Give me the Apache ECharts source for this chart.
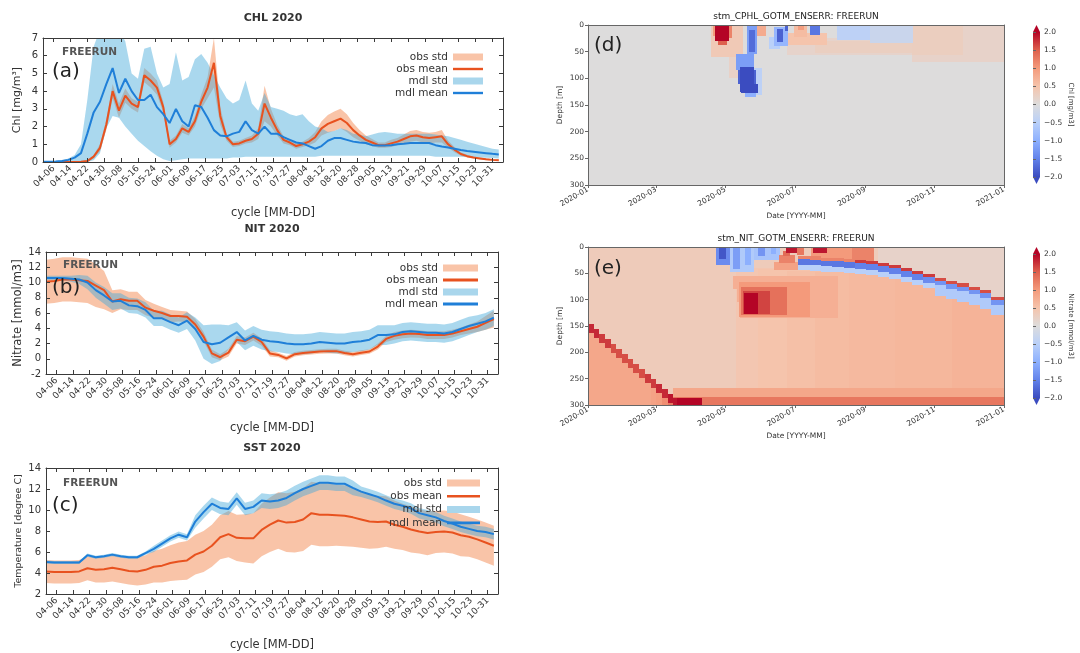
<!DOCTYPE html>
<html>
<head>
<meta charset="utf-8">
<script src="https://cdn.jsdelivr.net/npm/echarts@6/dist/echarts.min.js"></script>
<style>
  html, body { margin: 0; padding: 0; background: #ffffff; }
  #main { width: 1080px; height: 653px; }
</style>
</head>
<body>
<div id="main"></div>
<script>
// ---------------------------------------------------------------------------
// Tick labels
// ---------------------------------------------------------------------------
const cycleTicks = ['04-06','04-14','04-22','04-30','05-08','05-16','05-24','06-01','06-09',
  '06-17','06-25','07-03','07-11','07-19','07-27','08-04','08-12','08-20','08-28','09-05',
  '09-13','09-21','09-29','10-07','10-15','10-23','10-31'];
const monthTicks = ['2020-01','2020-03','2020-05','2020-07','2020-09','2020-11','2021-01'];

// ---------------------------------------------------------------------------
// Surface chlorophyll (days counted from 04-01)
// ---------------------------------------------------------------------------
const chlDays = [0,3,6,9,12,15,18,21,24,27,30,33,36,39,42,45,48,51,54,57,60,63,66,69,72,75,78,
  81,84,87,90,93,96,99,102,105,108,111,114,117,120,123,126,129,132,135,138,141,144,147,150,153,
  156,159,162,165,168,171,174,177,180,183,186,189,192,195,198,201,204,207,210,213,216];
const chlObsMean = [0,0,0,0,0,0,0.02,0.05,0.3,0.8, 2.1,4.0,2.9,3.75,3.3,3.1,4.9,4.6,4.2,3.1,
  1.0,1.3,1.9,1.7,2.3,3.4,4.2,5.6,2.6,1.4, 1.0,1.05,1.2,1.3,1.6,3.3,2.5,1.8,1.25,1.1,
  0.9,1.0,1.15,1.4,1.9,2.15,2.3,2.45,2.2,1.8, 1.5,1.25,1.1,0.95,0.95,1.05,1.15,1.3,1.45,1.5,
  1.4,1.35,1.4,1.45,1.0,0.7,0.45,0.33,0.25,0.2, 0.15,0.12,0.1];
const chlObsStd = [0,0,0,0,0,0,0.02,0.05,0.1,0.2, 0.3,0.4,0.4,0.4,0.3,0.3,0.4,0.4,0.4,0.3,
  0.2,0.2,0.25,0.2,0.3,0.4,0.6,1.4,0.5,0.2, 0.15,0.15,0.15,0.2,0.3,1.0,0.5,0.3,0.2,0.15,
  0.15,0.15,0.2,0.3,0.4,0.5,0.55,0.55,0.5,0.4, 0.3,0.25,0.2,0.15,0.15,0.2,0.2,0.25,0.3,0.3,
  0.3,0.3,0.3,0.35,0.2,0.15,0.1,0.08,0.05,0.05, 0.05,0.05,0.05];
const chlMdlMean = [0.02,0.02,0.03,0.06,0.12,0.25,0.5,1.6,2.8,3.4, 4.4,5.3,3.9,4.7,4.0,3.5,3.5,3.8,3.1,2.7,
  2.2,3.0,2.3,2.0,3.2,3.1,2.5,1.8,1.5,1.45, 1.6,1.7,2.3,1.8,1.6,2.0,1.6,1.6,1.4,1.25,
  1.1,1.05,0.9,0.75,0.9,1.2,1.35,1.35,1.25,1.15, 1.1,1.07,0.95,0.93,0.93,0.95,1.0,1.03,1.07,1.07,
  1.07,1.07,0.95,0.88,0.82,0.75,0.68,0.62,0.58,0.54, 0.5,0.46,0.43];
const chlMdlLo = [0,0,0,0,0,0,0,0,0.1,0.5, 1.9,2.6,2.5,2.0,1.6,1.2,0.9,0.6,0.35,0.15,
  0.05,0.1,0.15,0.2,0.2,0.2,0.2,0.2,0.2,0.2, 0.25,0.25,0.3,0.3,0.3,0.3,0.3,0.3,0.3,0.3,
  0.3,0.3,0.3,0.3,0.35,0.35,0.35,0.35,0.35,0.35, 0.35,0.35,0.35,0.35,0.35,0.35,0.35,0.35,0.35,0.35,
  0.35,0.35,0.3,0.3,0.3,0.3,0.3,0.28,0.26,0.25, 0.24,0.22,0.2];
const chlMdlHi = [0.02,0.03,0.05,0.1,0.2,0.4,1.0,3.5,6.5,7.5, 7.5,7.5,7.5,6.8,5.0,4.7,6.4,6.5,5.0,4.2,
  4.4,6.2,4.6,4.8,5.8,6.1,5.6,4.9,4.2,3.6, 3.3,3.5,4.6,3.3,2.9,3.9,3.1,3.0,2.9,2.7,
  2.6,2.7,2.3,2.0,1.9,1.7,1.75,1.9,1.8,1.6, 1.55,1.45,1.55,1.65,1.7,1.65,1.6,1.6,1.6,1.6,
  1.6,1.6,1.55,1.5,1.45,1.35,1.25,1.15,1.05,0.95, 0.85,0.75,0.7];

// ---------------------------------------------------------------------------
// Surface nitrate and temperature (days counted from 04-01)
// ---------------------------------------------------------------------------
const fourDayDays = [0,4,8,12,16,20,24,28,32,36,40,44,48,52,56,60,64,68,72,76,80,84,88,92,96,100,
  104,108,112,116,120,124,128,132,136,140,144,148,152,156,160,164,168,172,176,180,184,188,192,196,
  200,204,208,212,216];
const nitObsMean = [10.1,10.2,10.4,10.4,10.3,10.2,9.6,9.0,7.5,7.8, 7.6,7.6,6.7,6.3,6.0,5.6,5.6,5.5,4.5,2.9,
  0.7,0.2,0.8,2.5,2.3,2.9,2.2,0.7,0.5,0.05, 0.6,0.75,0.85,0.95,1.0,1.0,0.75,0.6,0.8,0.95,
  1.6,2.6,3.0,3.2,3.3,3.25,3.1,3.1,3.1,3.3, 3.6,3.9,4.2,4.7,5.2];
const nitObsStd = [2.9,2.9,2.9,2.9,2.9,2.9,2.8,2.5,1.5,1.3, 1.2,1.2,1.0,0.9,0.8,0.8,0.7,0.7,0.7,0.6,
  0.5,0.4,0.5,0.5,0.5,0.5,0.5,0.4,0.3,0.3, 0.3,0.3,0.3,0.3,0.3,0.3,0.3,0.3,0.3,0.3,
  0.4,0.4,0.5,0.5,0.5,0.5,0.5,0.5,0.5,0.5, 0.5,0.6,0.7,0.9,1.1];
const nitMdlMean = [10.6,10.6,10.6,10.5,10.4,10.0,9.0,8.3,7.5,7.6, 7.0,6.9,6.4,5.3,5.3,4.8,4.4,5.0,3.9,2.2,
  1.9,2.1,2.8,3.5,2.4,3.0,2.5,2.3,2.2,2.0, 1.9,1.9,2.0,2.2,2.1,2.0,2.0,2.2,2.3,2.5,
  3.1,3.1,3.2,3.5,3.6,3.5,3.4,3.4,3.3,3.5, 3.9,4.3,4.6,4.9,5.4];
const nitMdlStd = [0.3,0.3,0.3,0.4,0.6,0.9,1.0,1.1,1.1,1.0, 1.0,1.0,1.0,1.0,1.0,1.0,1.0,1.1,1.5,2.2,
  2.6,2.4,1.6,1.3,1.3,1.3,1.3,1.3,1.3,1.3, 1.3,1.3,1.3,1.3,1.3,1.3,1.3,1.3,1.3,1.3,
  1.3,1.3,1.2,1.2,1.2,1.2,1.2,1.2,1.2,1.2, 1.2,1.2,1.1,1.1,1.1];

const sstObsMean = [4.15,4.1,4.1,4.1,4.15,4.45,4.3,4.35,4.5,4.35, 4.2,4.15,4.3,4.6,4.7,4.95,5.1,5.2,5.75,6.05,
  6.6,7.4,7.7,7.35,7.3,7.3,8.1,8.6,9.0,8.8, 8.85,9.1,9.7,9.55,9.55,9.5,9.45,9.3,9.1,8.9,
  8.85,8.9,8.6,8.4,8.15,7.95,7.8,7.9,7.95,7.85, 7.6,7.45,7.2,6.9,6.6];
const sstObsStd = [1.1,1.1,1.1,1.1,1.1,1.15,1.2,1.25,1.3,1.3, 1.3,1.35,1.4,1.5,1.6,1.7,1.8,1.85,1.9,1.95,
  2.0,2.1,2.2,2.2,2.3,2.4,2.5,2.6,2.7,2.8, 2.9,3.0,3.0,3.0,3.0,2.9,2.9,2.8,2.7,2.6,
  2.5,2.4,2.3,2.2,2.2,2.1,2.1,2.0,2.0,2.0, 2.0,1.9,1.9,1.9,1.9];
const sstMdlMean = [5.05,5.0,5.0,5.0,5.0,5.7,5.5,5.6,5.75,5.6, 5.5,5.5,5.9,6.3,6.8,7.3,7.65,7.4,8.9,9.8,
  10.6,10.2,10.1,11.1,10.1,10.3,10.9,10.8,10.9,11.15, 11.6,12.0,12.3,12.6,12.6,12.5,12.5,12.1,11.75,11.5,
  11.25,10.9,10.6,10.4,10.15,9.7,9.5,9.3,8.95,8.7, 8.4,8.2,8.0,7.9,7.7];
const sstMdlStd = [0.15,0.15,0.15,0.15,0.15,0.15,0.15,0.15,0.15,0.15, 0.15,0.15,0.15,0.3,0.3,0.3,0.3,0.3,0.6,0.6,
  0.6,0.6,0.6,0.6,0.6,0.6,0.7,0.7,0.7,0.7, 0.7,0.7,0.7,0.7,0.7,0.7,0.7,0.7,0.5,0.5,
  0.5,0.5,0.5,0.5,0.5,0.5,0.5,0.5,0.5,0.5, 0.5,0.5,0.5,0.5,0.5];

// ---------------------------------------------------------------------------
// Ensemble error sections: [dayStart, dayEnd, depthTop, depthBottom, value]
// days counted from 2020-01-01; later patches are painted over earlier ones
// ---------------------------------------------------------------------------
const chlErrCells = [
  [0,366,0,300,0],
  [175,300,25,56,0.18], [200,300,30,52,0.28],
  [285,366,0,70,0.2], [285,330,0,56,0.3],
  [219,248,0,28,-0.45], [248,286,0,34,-0.28],
  [108,136,0,60,0.4], [124,134,60,100,0.22],
  [110,112,0,20,1.0], [112,124,0,30,2.0], [114,122,30,38,1.5], [124,127,0,25,1.2],
  [146,153,80,132,-0.45],
  [140,149,0,55,-1.2], [142,147,10,50,-1.7],
  [130,146,55,85,-1.2], [132,148,85,110,-1.8], [134,146,78,125,-2.0],
  [135,150,110,128,-2.0], [138,148,128,135,-1.0],
  [149,157,0,20,0.8],
  [175,210,15,38,0.5],
  [159,169,22,45,-0.5], [164,176,4,40,-0.9], [166,172,8,32,-1.8], [173,176,0,12,-1.8],
  [181,193,0,22,0.6], [185,190,0,10,0.95],
  [195,204,0,18,-1.6]
];

const nitErrCells = [
  [0,366,0,300,0.35],
  [130,366,40,268,0.45], [150,366,42,268,0.5], [175,366,45,268,0.55], [200,366,48,268,0.6],
  [230,366,50,268,0.63], [270,366,55,268,0.66], [320,366,60,268,0.7],
  [75,366,268,284,0.85], [75,366,284,300,1.3], [78,100,286,300,2.0],
  // deep staircase
  [0,5,146,164,1.8],[0,5,164,300,0.85],
  [5,10,155,173,1.8],[5,10,173,300,0.85],
  [10,15,165,183,1.7],[10,15,183,300,0.85],
  [15,20,174,192,1.7],[15,20,192,300,0.85],
  [20,25,184,202,1.6],[20,25,202,300,0.85],
  [25,30,193,211,1.6],[25,30,211,300,0.85],
  [30,35,203,221,1.6],[30,35,221,300,0.85],
  [35,40,212,230,1.6],[35,40,230,300,0.85],
  [40,45,222,240,1.6],[40,45,240,300,0.85],
  [45,50,231,249,1.6],[45,50,249,300,0.85],
  [50,55,241,259,1.7],[50,55,259,300,0.85],
  [55,60,250,268,1.7],[55,60,268,300,0.9],
  [60,65,260,278,1.8],[60,65,278,300,0.95],
  [65,70,269,287,1.8],[65,70,287,300,1.1],
  [70,75,279,297,1.9],[70,75,297,300,1.3],
  [75,78,287,300,1.9],
  // subsurface maximum
  [128,220,56,80,0.75], [131,220,80,105,0.75], [134,220,105,135,0.75],
  [133,195,66,132,1.0], [135,175,76,130,1.35], [136,160,84,128,1.65], [137,150,88,127,2.0],
  // spring surface layer
  [113,125,0,34,-1.4], [115,121,0,22,-1.9], [125,146,0,48,-0.6], [128,134,0,42,-1.2],
  [138,143,0,35,-1.0], [146,169,0,25,-0.7], [150,156,0,18,-1.3], [161,165,0,14,-1.0],
  [164,186,28,44,0.9], [168,182,16,30,1.2], [172,178,8,18,1.4],
  [174,184,0,12,1.9], [184,190,0,16,1.3],
  [196,252,0,22,1.0], [232,252,0,27,1.2], [198,210,0,12,1.9],
  // summer-autumn nitracline
  [185,195,17,23,1.2],[185,195,23,34,-1.6],[185,195,34,44,-0.5],
  [195,205,18,24,1.2],[195,205,24,35,-1.6],[195,205,35,45,-0.5],
  [205,215,20,26,1.2],[205,215,26,37,-1.6],[205,215,37,47,-0.5],
  [215,225,21,27,1.2],[215,225,27,38,-1.6],[215,225,38,48,-0.5],
  [225,235,23,29,1.2],[225,235,29,40,-1.6],[225,235,40,50,-0.5],
  [235,245,25,31,1.7],[235,245,31,42,-1.5],[235,245,42,52,-0.5],
  [245,255,27,33,1.7],[245,255,33,44,-1.5],[245,255,44,54,-0.5],
  [255,265,0,30,0.2],[255,265,30,36,1.7],[255,265,36,47,-1.5],[255,265,47,57,-0.5],
  [265,275,0,34,0.2],[265,275,34,40,1.7],[265,275,40,51,-1.5],[265,275,51,61,-0.5],
  [275,285,0,40,0.2],[275,285,40,46,1.7],[275,285,46,57,-1.5],[275,285,57,67,-0.5],
  [285,295,0,45,0.2],[285,295,45,51,1.7],[285,295,51,62,-1.5],[285,295,62,72,-0.5],
  [295,305,0,51,0.2],[295,305,51,57,1.7],[295,305,57,68,-1.4],[295,305,68,78,-0.5],
  [305,315,0,58,0.2],[305,315,58,64,1.6],[305,315,64,73,-1.3],[305,315,73,93,-0.6],
  [315,325,0,64,0.2],[315,325,64,70,1.6],[315,325,70,79,-1.3],[315,325,79,99,-0.6],
  [325,335,0,69,0.2],[325,335,69,75,1.6],[325,335,75,84,-1.3],[325,335,84,104,-0.6],
  [335,345,0,75,0.2],[335,345,75,81,1.6],[335,345,81,90,-1.3],[335,345,90,110,-0.6],
  [345,355,0,82,0.2],[345,355,82,88,1.6],[345,355,88,97,-1.3],[345,355,97,117,-0.6],
  [355,366,0,95,0.2],[355,366,95,101,1.6],[355,366,101,110,-1.3],[355,366,110,130,-0.6]
];

// ---------------------------------------------------------------------------
// Styling
// ---------------------------------------------------------------------------
const FONT = 'DejaVu Sans';
const OBS_LINE = '#e8521f';
const MDL_LINE = '#1f7fd8';
const OBS_BAND = 'rgba(243,137,81,0.5)';
const MDL_BAND = 'rgba(67,169,218,0.45)';
const COOLWARM = ['#3b4cc0','#6282ea','#8db0fe','#b9d0f9','#dddcdc','#f5c4ac','#f49a7b','#de604d','#b40426'];
const LINE_ICON = 'path://M0,0 L30,0 L30,2.4 L0,2.4 Z';

function seasonDay(mmdd) {
  const [m, d] = mmdd.split('-').map(Number);
  return Math.round((Date.UTC(2020, m - 1, d) - Date.UTC(2020, 3, 1)) / 864e5);
}
function yearDay(ym) {
  const [y, m] = ym.split('-').map(Number);
  return Math.round((Date.UTC(y, m - 1, 1) - Date.UTC(2020, 0, 1)) / 864e5);
}
const cycleTickDays = cycleTicks.map(seasonDay);
const cycleLabel = {};
cycleTicks.forEach((t, i) => { cycleLabel[cycleTickDays[i]] = t; });
const monthTickDays = monthTicks.map(yearDay);
const monthLabel = {};
monthTicks.forEach((t, i) => { monthLabel[monthTickDays[i]] = t; });

const SEASON_END = seasonDay('11-05');
const YEAR_END = yearDay('2021-01');

// ---------------------------------------------------------------------------
// Time-series panels
// ---------------------------------------------------------------------------
const panels = [
  { grid: { left: 43, top: 38, width: 460, height: 124 },
    y: [0, 7, 1], yName: 'Chl [mg/m³]', yNameSize: 11, yNameGap: 20, xNameGap: 45,
    days: chlDays, obsMean: chlObsMean,
    obsLo: chlObsMean.map((m, i) => m - chlObsStd[i]),
    obsHi: chlObsMean.map((m, i) => m + chlObsStd[i]),
    mdlMean: chlMdlMean, mdlLo: chlMdlLo, mdlHi: chlMdlHi,
    legend: { right: 592, top: 46, gap: 0, w: 30 } },
  { grid: { left: 46, top: 252, width: 452, height: 122 },
    y: [-2, 14, 2], yName: 'Nitrate [mmol/m3]', yNameSize: 11.5, yNameGap: 21, xNameGap: 48,
    days: fourDayDays, obsMean: nitObsMean,
    obsLo: nitObsMean.map((m, i) => m - nitObsStd[i]),
    obsHi: nitObsMean.map((m, i) => m + nitObsStd[i]),
    mdlMean: nitMdlMean,
    mdlLo: nitMdlMean.map((m, i) => m - nitMdlStd[i]),
    mdlHi: nitMdlMean.map((m, i) => m + nitMdlStd[i]),
    legend: { right: 597, top: 257, gap: 0, w: 35 } },
  { grid: { left: 46, top: 468, width: 452, height: 126 },
    y: [2, 14, 2], yName: 'Temperature [degree C]', yNameSize: 9.5, yNameGap: 22, xNameGap: 45,
    days: fourDayDays, obsMean: sstObsMean,
    obsLo: sstObsMean.map((m, i) => m - sstObsStd[i]),
    obsHi: sstObsMean.map((m, i) => m + sstObsStd[i]),
    mdlMean: sstMdlMean,
    mdlLo: sstMdlMean.map((m, i) => m - sstMdlStd[i]),
    mdlHi: sstMdlMean.map((m, i) => m + sstMdlStd[i]),
    legend: { right: 595, top: 472, gap: 1.3, w: 33 } }
];

// A shaded band between a lower and an upper curve, drawn once as a single polygon
function renderBand(params, api) {
  if (params.dataIndexInside !== 0) return null;
  const n = params.dataInsideLength;
  const pts = [];
  for (let i = 0; i < n; i++) pts.push(api.coord([api.value(0, i), api.value(2, i)]));
  for (let i = n - 1; i >= 0; i--) pts.push(api.coord([api.value(0, i), api.value(1, i)]));
  return { type: 'polygon', shape: { points: pts }, style: { fill: api.visual('color') } };
}

const AX_COLOR = '#3a3a3a';
const grids = [];
const xAxes = [];
const yAxes = [];
const series = [];
const legends = [];

panels.forEach((p, gi) => {
  grids.push(Object.assign({ containLabel: false }, p.grid));
  const line = { show: true, onZero: false, lineStyle: { color: AX_COLOR, width: 1 } };
  const tick = { show: true, inside: true, length: 4, lineStyle: { color: AX_COLOR } };
  xAxes.push({
    type: 'value', gridIndex: gi, min: 0, max: SEASON_END, position: 'bottom', z: 10,
    name: 'cycle [MM-DD]', nameLocation: 'middle', nameGap: p.xNameGap,
    nameTextStyle: { fontFamily: FONT, fontSize: 11.5, color: '#333' },
    axisLine: line, axisTick: Object.assign({ customValues: cycleTickDays }, tick),
    axisLabel: { show: true, rotate: 45, margin: 5, fontFamily: FONT, fontSize: 9, color: '#333',
      customValues: cycleTickDays, formatter: v => cycleLabel[v] || '' },
    splitLine: { show: false }
  });
  xAxes.push({
    type: 'value', gridIndex: gi, min: 0, max: SEASON_END, position: 'top', z: 10,
    axisLine: line, axisTick: Object.assign({ customValues: cycleTickDays }, tick),
    axisLabel: { show: false }, splitLine: { show: false }
  });
  yAxes.push({
    type: 'value', gridIndex: gi, min: p.y[0], max: p.y[1], interval: p.y[2], position: 'left', z: 10,
    name: p.yName, nameLocation: 'middle', nameGap: p.yNameGap,
    nameTextStyle: { fontFamily: FONT, fontSize: p.yNameSize, color: '#333' },
    axisLine: line, axisTick: tick,
    axisLabel: { fontFamily: FONT, fontSize: 10, color: '#333', margin: 5 },
    splitLine: { show: false }
  });
  yAxes.push({
    type: 'value', gridIndex: gi, min: p.y[0], max: p.y[1], interval: p.y[2], position: 'right', z: 10,
    axisLine: line, axisTick: tick, axisLabel: { show: false }, splitLine: { show: false }
  });

  const ax = { xAxisIndex: 2 * gi, yAxisIndex: 2 * gi };
  const band = (name, lo, hi, color) => Object.assign({
    type: 'custom', name, clip: true, silent: true,
    dimensions: ['day', 'lo', 'hi'], encode: { x: 0, y: [1, 2] },
    itemStyle: { color },
    renderItem: renderBand,
    data: p.days.map((d, i) => [d, lo[i], hi[i]])
  }, ax);
  const mean = (name, data, color) => Object.assign({
    type: 'line', name, symbol: 'none', silent: true,
    lineStyle: { color, width: 2 }, itemStyle: { color },
    data: p.days.map((d, i) => [d, data[i]])
  }, ax);

  series.push(band('obs std', p.obsLo, p.obsHi, OBS_BAND));
  series.push(mean('obs mean', p.obsMean, OBS_LINE));
  series.push(band('mdl std', p.mdlLo, p.mdlHi, MDL_BAND));
  series.push(mean('mdl mean', p.mdlMean, MDL_LINE));

  legends.push({
    right: p.legend.right, top: p.legend.top, orient: 'vertical', align: 'right',
    itemGap: p.legend.gap, itemWidth: p.legend.w, itemHeight: 7, selectedMode: false,
    symbolKeepAspect: true,
    textStyle: { fontFamily: FONT, fontSize: 10.5, color: '#333', lineHeight: 12 },
    data: [
      { name: 'obs std', icon: 'rect', itemStyle: { color: '#f9c4a8', opacity: 1 } },
      { name: 'obs mean', icon: LINE_ICON, itemStyle: { color: OBS_LINE } },
      { name: 'mdl std', icon: 'rect', itemStyle: { color: '#a9d6ec', opacity: 1 } },
      { name: 'mdl mean', icon: LINE_ICON, itemStyle: { color: MDL_LINE } }
    ]
  });
});

// ---------------------------------------------------------------------------
// Depth-time error sections and their colour bars
// ---------------------------------------------------------------------------
const sections = [
  { grid: { left: 588, top: 25, width: 416, height: 160 }, cells: chlErrCells,
    bar: { left: 1033, top: 32, width: 7, height: 145 }, barName: 'Chl [mg/m3]' },
  { grid: { left: 588, top: 247, width: 416, height: 158 }, cells: nitErrCells,
    bar: { left: 1033, top: 254, width: 7, height: 144 }, barName: 'Nitrate [mmol/m3]' }
];

const MPL_AXIS = '#666';
const smallText = { fontFamily: FONT, fontSize: 7.5, color: '#333' };

function renderCell(params, api) {
  const p0 = api.coord([api.value(0), api.value(2)]);
  const p1 = api.coord([api.value(1), api.value(3)]);
  const x0 = Math.round(Math.min(p0[0], p1[0])), x1 = Math.round(Math.max(p0[0], p1[0]));
  const y0 = Math.round(Math.min(p0[1], p1[1])), y1 = Math.round(Math.max(p0[1], p1[1]));
  return {
    type: 'rect',
    shape: { x: x0, y: y0, width: x1 - x0, height: y1 - y0 },
    style: { fill: api.visual('color') }
  };
}

function renderColorbar(params, api) {
  const top = api.coord([0, api.value(1)]);
  const bot = api.coord([1, api.value(0)]);
  const x0 = top[0], x1 = bot[0], y0 = top[1], y1 = bot[1];
  const tip = x1 - x0;
  const stops = COOLWARM.map((c, i) => ({ offset: i / (COOLWARM.length - 1), color: COOLWARM[COOLWARM.length - 1 - i] }));
  return {
    type: 'group',
    children: [
      { type: 'rect', shape: { x: x0, y: y0, width: x1 - x0, height: y1 - y0 },
        style: { fill: new echarts.graphic.LinearGradient(0, 0, 0, 1, stops) } },
      { type: 'polygon', shape: { points: [[x0, y0], [x1, y0], [(x0 + x1) / 2, y0 - tip]] },
        style: { fill: COOLWARM[COOLWARM.length - 1] } },
      { type: 'polygon', shape: { points: [[x0, y1], [x1, y1], [(x0 + x1) / 2, y1 + tip]] },
        style: { fill: COOLWARM[0] } }
    ]
  };
}

const sectionSeriesIndex = [];
sections.forEach((s) => {
  const gi = grids.length;
  grids.push(s.grid);
  const xi = xAxes.length, yi = yAxes.length;
  const frame = { show: true, onZero: false, lineStyle: { color: MPL_AXIS, width: 1 } };
  xAxes.push({
    type: 'value', gridIndex: gi, min: 0, max: YEAR_END, position: 'bottom', z: 10,
    name: 'Date [YYYY-MM]', nameLocation: 'middle', nameGap: 27, nameTextStyle: smallText,
    axisLine: frame,
    axisTick: { show: true, length: 3, customValues: monthTickDays, lineStyle: { color: MPL_AXIS } },
    axisLabel: Object.assign({ rotate: 30, margin: 4, customValues: monthTickDays,
      formatter: v => monthLabel[v] || '' }, smallText),
    splitLine: { show: false }
  });
  xAxes.push({
    type: 'value', gridIndex: gi, min: 0, max: YEAR_END, position: 'top', z: 10,
    axisLine: frame, axisTick: { show: false }, axisLabel: { show: false }, splitLine: { show: false }
  });
  yAxes.push({
    type: 'value', gridIndex: gi, min: 0, max: 300, interval: 50, inverse: true, position: 'left', z: 10,
    name: 'Depth [m]', nameLocation: 'middle', nameGap: 24, nameTextStyle: smallText,
    axisLine: frame,
    axisTick: { show: true, length: 3, lineStyle: { color: MPL_AXIS } },
    axisLabel: Object.assign({ margin: 4 }, smallText),
    splitLine: { show: false }
  });
  yAxes.push({
    type: 'value', gridIndex: gi, min: 0, max: 300, inverse: true, position: 'right', z: 10,
    axisLine: frame, axisTick: { show: false }, axisLabel: { show: false }, splitLine: { show: false }
  });
  sectionSeriesIndex.push(series.length);
  series.push({
    type: 'custom', xAxisIndex: xi, yAxisIndex: yi, clip: true, silent: true,
    dimensions: ['t0', 't1', 'z0', 'z1', 'v'],
    encode: { x: [0, 1], y: [2, 3] },
    renderItem: renderCell, data: s.cells
  });
});

sections.forEach((s) => {
  const gi = grids.length;
  grids.push(s.bar);
  const xi = xAxes.length, yi = yAxes.length;
  xAxes.push({ type: 'value', gridIndex: gi, min: 0, max: 1, show: false });
  yAxes.push({
    type: 'value', gridIndex: gi, min: -2, max: 2, interval: 0.5, position: 'right', z: 10,
    name: s.barName, nameLocation: 'middle', nameRotate: -90, nameGap: 27,
    nameTextStyle: { fontFamily: FONT, fontSize: 7, color: '#333' },
    axisLine: { show: false },
    axisTick: { show: true, length: 3, lineStyle: { color: MPL_AXIS } },
    axisLabel: Object.assign({ margin: 4, formatter: v => v.toFixed(1).replace('-', '\u2212') }, smallText),
    splitLine: { show: false }
  });
  series.push({
    type: 'custom', xAxisIndex: xi, yAxisIndex: yi, clip: false, silent: true,
    renderItem: renderColorbar, data: [[-2, 2]]
  });
});

// ---------------------------------------------------------------------------
// Titles and panel tags
// ---------------------------------------------------------------------------
function label(text, x, y, size, opts) {
  return {
    type: 'text', x, y, silent: true, z: 20,
    style: Object.assign({ text, fontFamily: FONT, fontSize: size, fill: '#222',
      textAlign: 'left', textVerticalAlign: 'middle' }, opts || {})
  };
}
const graphics = [
  label('CHL 2020', 273, 18, 11, { textAlign: 'center', fontWeight: 'bold', fill: '#333' }),
  label('NIT 2020', 272, 229, 11, { textAlign: 'center', fontWeight: 'bold', fill: '#333' }),
  label('SST 2020', 272, 448, 11, { textAlign: 'center', fontWeight: 'bold', fill: '#333' }),
  label('FREERUN', 62, 52, 10.5, { fontWeight: 'bold', fill: '#555' }),
  label('FREERUN', 63, 265, 10.5, { fontWeight: 'bold', fill: '#555' }),
  label('FREERUN', 63, 483, 10.5, { fontWeight: 'bold', fill: '#555' }),
  label('(a)', 52, 72, 20),
  label('(b)', 52, 288, 20),
  label('(c)', 52, 506, 20),
  label('(d)', 594, 46, 20),
  label('(e)', 594, 269, 20),
  label('stm_CPHL_GOTM_ENSERR: FREERUN', 796, 17, 9, { textAlign: 'center' }),
  label('stm_NIT_GOTM_ENSERR: FREERUN', 796, 239, 9, { textAlign: 'center' })
];

const chart = echarts.init(document.getElementById('main'), null, { renderer: 'canvas' });
chart.setOption({
  animation: false,
  backgroundColor: '#ffffff',
  textStyle: { fontFamily: FONT },
  grid: grids,
  xAxis: xAxes,
  yAxis: yAxes,
  legend: legends,
  visualMap: {
    type: 'continuous', show: false, min: -2, max: 2, dimension: 4,
    seriesIndex: sectionSeriesIndex, inRange: { color: COOLWARM }
  },
  series,
  graphic: graphics
});
</script>
</body>
</html>
